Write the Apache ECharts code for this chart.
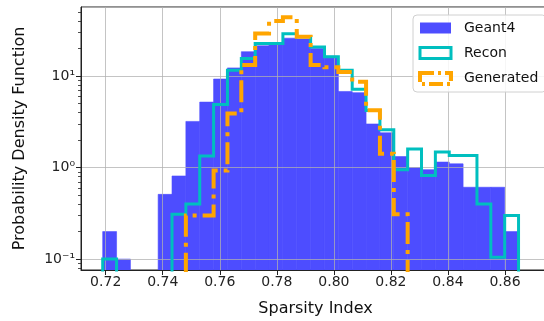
<!DOCTYPE html>
<html>
<head>
<meta charset="utf-8">
<script src="https://cdn.jsdelivr.net/npm/echarts@6/dist/echarts.min.js"></script>
<style>
  html, body { margin: 0; padding: 0; background: #fff; }
  #chart { width: 544px; height: 321px; }
</style>
</head>
<body>
<div id="chart"></div>
<script>
  // histogram bins (shared by all three samples)
  var binLo = 0.71895;
  var binHi = 0.86475;
  var nBins = 30;

  // probability density per bin
  var geant4 = [0.20, 0.10, 0, 0, 0.51, 0.81, 3.2, 5.2, 9.3, 12.3,
                18.5, 21.5, 22.5, 26, 25.5, 20, 16.5, 6.8, 6.6, 3.0,
                2.4, 1.32, 1.0, 0.95, 1.15, 1.1, 0.61, 0.61, 0.61, 0.20];
  var recon = [0.10, 0, 0, 0, 0, 0.31, 0.40, 1.34, 4.9, 11.6,
               15.6, 22.8, 22.8, 29, 27, 20.8, 16.3, 11.6, 7.2, 4.2,
               2.6, 0.95, 1.6, 0.82, 1.48, 1.36, 1.36, 0.40, 0.105, 0.30];
  var generated = [0, 0, 0, 0, 0, 0, 0.30, 0.30, 0.93, 3.9,
                   13.2, 29.3, 40, 44, 27, 13.2, 12.5, 11.1, 8.7, 4.25,
                   1.42, 0.31, 0, 0, 0, 0, 0, 0, 0, 0];

  var seriesNames = ['Geant4', 'Recon', 'Generated'];
  var yTickLabels = { '-1': '10\u207B\u00B9', '0': '10\u2070', '1': '10\u00B9' };
  // log minor ticks (2..9 x 10^n)
  var yMinorTicks = [0.08, 0.09, 0.2, 0.3, 0.4, 0.5, 0.6, 0.7, 0.8, 0.9,
                     2, 3, 4, 5, 6, 7, 8, 9, 20, 30, 40, 50];

  var xMin = 0.71134, xMax = 0.87578;
  var yMin = 0.076, yMax = 57;
  var floorVal = 1e-4; // empty bins drop below the axis

  var edges = [];
  for (var i = 0; i <= nBins; i++) edges.push(binLo + (binHi - binLo) * i / nBins);

  // bars: [left edge, right edge, value]
  var barData = [];
  geant4.forEach(function (v, i) {
    if (v > 0) barData.push([edges[i], edges[i + 1], v]);
  });

  // step outline like histtype='step'
  function stepData(vals) {
    var pts = [[edges[0], floorVal]];
    vals.forEach(function (v, i) { pts.push([edges[i], v > 0 ? v : floorVal]); });
    pts.push([edges[nBins], floorVal]);
    return pts;
  }

  function renderBar(params, api) {
    var p0 = api.coord([api.value(0), api.value(2)]);
    var p1 = api.coord([api.value(1), yMin]);
    var rect = echarts.graphic.clipRectByRect({
      x: p0[0], y: p0[1], width: p1[0] - p0[0], height: p1[1] - p0[1]
    }, {
      x: params.coordSys.x, y: params.coordSys.y,
      width: params.coordSys.width, height: params.coordSys.height
    });
    return rect && {
      type: 'rect',
      shape: rect,
      style: { fill: '#4d4dff', stroke: '#4d4dff', lineWidth: 0.6 }
    };
  }

  var font = 'DejaVu Sans';
  var chart = echarts.init(document.getElementById('chart'));

  chart.setOption({
    animation: false,
    textStyle: { fontFamily: font },
    grid: {
      left: 81, top: 7, right: -6, bottom: 51,
      containLabel: false, outerBoundsMode: 'none',
      show: true, borderColor: '#222', borderWidth: 1, backgroundColor: '#fff', z: 0
    },
    legend: {
      orient: 'vertical',
      left: 413, top: 15,
      itemWidth: 31, itemHeight: 11, itemGap: 11,
      padding: [6, 8, 6, 5],
      backgroundColor: 'rgba(255,255,255,0.85)',
      borderColor: '#d0d0d0', borderWidth: 1, borderRadius: 4,
      textStyle: { fontSize: 14, color: '#111', fontFamily: font, padding: [0, 0, 0, 8] },
      z: 10,
      data: [
        { name: 'Geant4', icon: 'rect', itemStyle: { color: '#4d4dff' } },
        { name: 'Recon', icon: 'rect', itemStyle: { color: 'rgba(0,0,0,0)', borderColor: '#00bfbf', borderWidth: 3 } },
        { name: 'Generated', icon: 'rect', itemStyle: { color: 'rgba(0,0,0,0)', borderColor: '#ffa500', borderWidth: 4, borderType: [14, 4, 3, 4] } }
      ]
    },
    xAxis: {
      type: 'value',
      min: xMin, max: xMax,
      splitNumber: 8,
      z: 2,
      name: 'Sparsity Index',
      nameLocation: 'middle', nameGap: 31,
      nameTextStyle: { fontSize: 16, color: '#111', fontFamily: font },
      axisLine: { show: true, lineStyle: { color: '#222', width: 1 } },
      axisTick: { show: true, length: 5, lineStyle: { color: '#222' } },
      axisLabel: {
        fontSize: 14, color: '#222', margin: 5, fontFamily: font,
        showMinLabel: false, showMaxLabel: false,
        formatter: function (v) { return v.toFixed(2); }
      },
      splitLine: { show: true, lineStyle: { color: 'rgba(176,176,176,0.75)', width: 1 } }
    },
    yAxis: [
      {
        type: 'log', logBase: 10,
        min: yMin, max: yMax,
        z: 2,
        name: 'Probability Density Function',
        nameLocation: 'middle', nameGap: 53,
        nameTextStyle: { fontSize: 16, color: '#111', fontFamily: font },
        axisLine: { show: true, lineStyle: { color: '#222', width: 1 } },
        axisTick: { show: true, length: 5, lineStyle: { color: '#222' } },
        axisLabel: {
          fontSize: 14, color: '#222', margin: 6, fontFamily: font,
          showMinLabel: false, showMaxLabel: false,
          formatter: function (v) {
            var e = Math.round(Math.log10(v));
            return yTickLabels[String(e)] || '';
          }
        },
        splitLine: { show: true, lineStyle: { color: 'rgba(176,176,176,0.75)', width: 1 } }
      },
      {
        // minor ticks only
        type: 'log', logBase: 10,
        min: yMin, max: yMax,
        position: 'left',
        z: 2,
        axisLine: { show: false },
        axisTick: { show: true, length: 3, customValues: yMinorTicks, lineStyle: { color: '#222', width: 0.8 } },
        axisLabel: { show: false },
        splitLine: { show: false }
      }
    ],
    series: [
      {
        name: seriesNames[0],
        type: 'custom',
        renderItem: renderBar,
        encode: { x: [0, 1], y: 2 },
        itemStyle: { color: '#4d4dff' },
        data: barData,
        z: 1
      },
      {
        name: seriesNames[1],
        type: 'line',
        step: 'end',
        symbol: 'none',
        clip: true,
        lineStyle: { color: '#00bfbf', width: 3, join: 'miter' },
        itemStyle: { color: '#00bfbf' },
        data: stepData(recon),
        z: 3
      },
      {
        name: seriesNames[2],
        type: 'line',
        step: 'end',
        symbol: 'none',
        clip: true,
        lineStyle: { color: '#ffa500', width: 4, type: [22, 6, 4, 6], join: 'miter' },
        itemStyle: { color: '#ffa500' },
        data: stepData(generated),
        z: 4
      }
    ]
  });
</script>
</body>
</html>
